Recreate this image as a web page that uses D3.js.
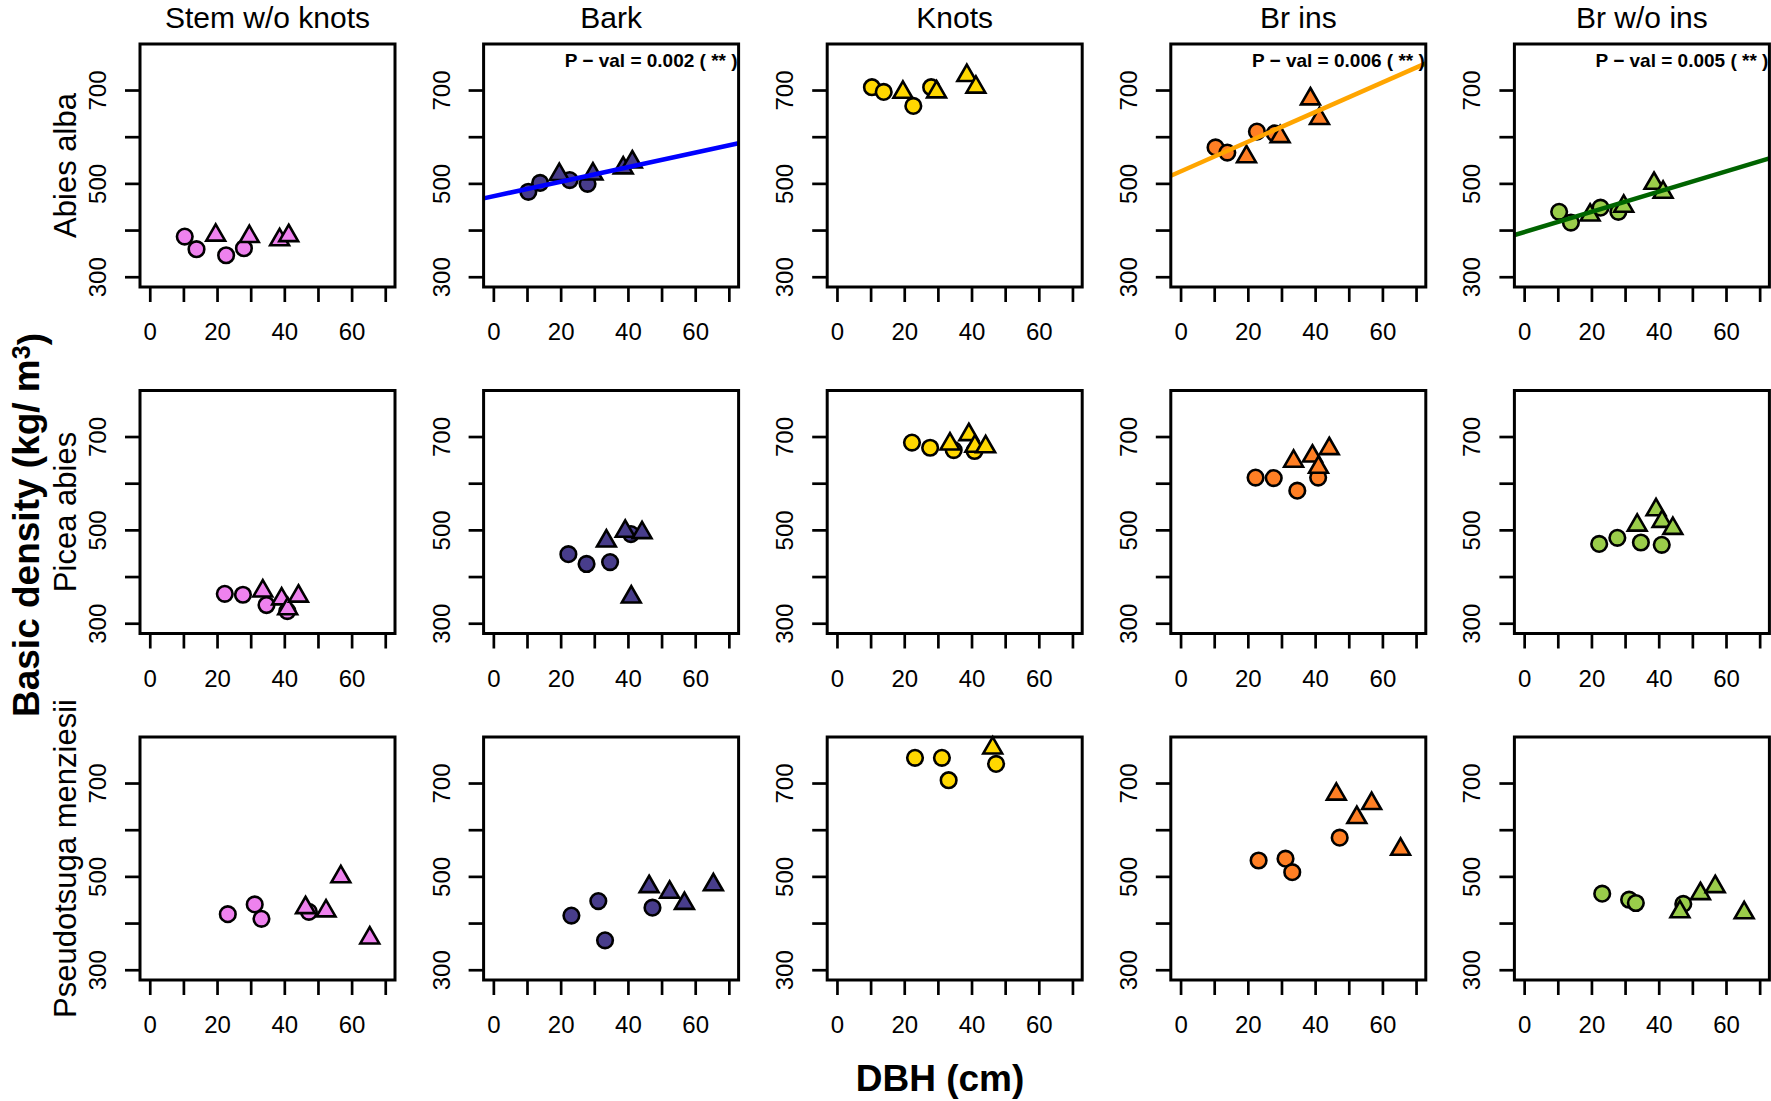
<!DOCTYPE html>
<html><head><meta charset="utf-8">
<script src="https://cdn.jsdelivr.net/npm/d3@7"></script>
<style>
body{margin:0;background:#fff}
svg{display:block;font-family:"Liberation Sans",Arial,Helvetica,sans-serif}
</style>
</head><body>
<svg id="chart" width="1771" height="1101"></svg>
<script>
// ---------- data ----------
const components = ["Stem w/o knots", "Bark", "Knots", "Br ins", "Br w/o ins"];
const speciesNames = ["Abies alba", "Picea abies", "Pseudotsuga menziesii"];
const xTicks = [0, 10, 20, 30, 40, 50, 60, 70];
const xTickLabels = [0, 20, 40, 60];
const yTicks = [300, 400, 500, 600, 700];
const yTickLabels = [300, 500, 700];

// DBH (cm) of the trees, circles and triangles groups
const abiesDbhCircle = [10.4, 13.9, 22.7, 28.0];
const abiesDbhTriangle = [19.6, 29.6, 38.6, 41.3];
const piceaDbhCircle = [22.3, 27.7, 34.7, 40.9];
const piceaDbhTriangle = [33.6, 39.2, 41.0, 44.2];
const pseudoDbhCircle = [23.2, 31.2, 33.2, 47.3];
const pseudoDbhTriangle = [46.3, 52.4, 56.8, 65.4];

// basic density (kg/m3), one row per component
const abiesCircle = [
  [386, 359, 346, 361],
  [482, 501, 507, 499],
  [706, 696, 666, 706],
  [577, 566, 611, 607],
  [439, 416, 448, 439]
];
const abiesTriangle = [
  [389, 386, 379, 388],
  [519, 520, 533, 546],
  [695, 696, 731, 706],
  [557, 600, 681, 639],
  [432, 451, 500, 481]
];
const piceaCircle = [
  [363, 361, 339, 326],
  [448, 427, 431, 491],
  [687, 676, 671, 669],
  [612, 611, 584, 612],
  [470, 483, 473, 468]
];
const piceaTriangle = [
  [369, 352, 331, 358],
  [476, 497, 356, 494],
  [684, 704, 679, 678],
  [647, 658, 634, 674],
  [510, 543, 518, 503]
];
const pseudoCircle = [
  [419, 440, 409, 424],
  [416, 447, 363, 433],
  [754, 754, 706, 741],
  [534, 538, 509, 583],
  [463, 450, 443, 441]
];
const pseudoTriangle = [
  [433, 426, 499, 368],
  [478, 466, 442, 482],
  [775, null, null, null],
  [676, 626, 656, 558],
  [424, 463, 478, 422]
];

// significant regressions (row, column, intercept, slope, p-value)
const fitRow = [0, 0, 0];
const fitCol = [1, 3, 4];
const fitIntercept = [472.4, 525.5, 395.5];
const fitSlope = [1.56, 3.18, 2.17];
const fitPValue = ["0.002", "0.006", "0.005"];
const fitStars = ["**", "**", "**"];

// ---------- styles ----------
const fillColors = ["#EE82EE", "#483D8B", "#FFD700", "#FF7F24", "#9ACD4A"];
const lineColors = ["#0000FF", "#0000FF", "#FFA500", "#FFA500", "#006400"];

const speciesData = [
  {dc: abiesDbhCircle, dt: abiesDbhTriangle, c: abiesCircle, t: abiesTriangle},
  {dc: piceaDbhCircle, dt: piceaDbhTriangle, c: piceaCircle, t: piceaTriangle},
  {dc: pseudoDbhCircle, dt: pseudoDbhTriangle, c: pseudoCircle, t: pseudoTriangle}
];

// ---------- layout ----------
const svg = d3.select("#chart");
const W = 255, H = 243;
const colLeft = i => 140 + i * 343.6;
const rowTop = j => 44 + j * 346.5;
const R = 7.8;       // marker radius
const TRI = 7.0;     // triangle size parameter

const x = d3.scaleLinear().domain([-2.9, 72.9]).range([0, W]);
const y = d3.scaleLinear().domain([278, 798.6]).range([H, 0]);

function trianglePath(s) {
  const a = 1.555 * s, b = 1.347 * s, c = 0.778 * s;
  const p = d3.path();
  p.moveTo(0, -a); p.lineTo(b, c); p.lineTo(-b, c); p.closePath();
  return p.toString();
}

const defs = svg.append("defs");

speciesData.forEach((sp, j) => {
  components.forEach((comp, i) => {
    const g = svg.append("g").attr("transform", `translate(${colLeft(i)},${rowTop(j)})`);
    const clipId = `clip-${j}-${i}`;
    defs.append("clipPath").attr("id", clipId)
      .append("rect").attr("width", W).attr("height", H);

    // x axis
    const xa = g.append("g").attr("transform", `translate(0,${H})`)
      .call(d3.axisBottom(x).tickValues(xTicks).tickSize(15).tickPadding(21)
        .tickFormat(d => xTickLabels.includes(d) ? d : ""));
    xa.select(".domain").remove();
    xa.selectAll("line").attr("stroke", "#000").attr("stroke-width", 2.7);
    xa.selectAll("text").attr("fill", "#000").style("font-size", "24px")
      .style("font-family", "'Liberation Sans',Arial,sans-serif");

    // y axis
    const ya = g.append("g")
      .call(d3.axisLeft(y).tickValues(yTicks).tickSize(15)
        .tickFormat(d => yTickLabels.includes(d) ? d : ""));
    ya.select(".domain").remove();
    ya.selectAll("line").attr("stroke", "#000").attr("stroke-width", 2.7);
    ya.selectAll("text").attr("fill", "#000").style("font-size", "24px")
      .style("font-family", "'Liberation Sans',Arial,sans-serif")
      .attr("x", null).attr("dy", null)
      .attr("text-anchor", "middle")
      .attr("transform", "translate(-34,0) rotate(-90)");

    // circles
    const circ = sp.dc.map((d, k) => ({x: d, y: sp.c[i][k]})).filter(d => d.y != null);
    g.selectAll("circle.pt").data(circ).join("circle")
      .attr("class", "pt")
      .attr("cx", d => x(d.x)).attr("cy", d => y(d.y)).attr("r", R)
      .attr("fill", fillColors[i]).attr("stroke", "#000").attr("stroke-width", 2.6);

    // triangles
    const tri = sp.dt.map((d, k) => ({x: d, y: sp.t[i][k]})).filter(d => d.y != null);
    g.selectAll("path.tri").data(tri).join("path")
      .attr("class", "tri")
      .attr("d", trianglePath(TRI))
      .attr("transform", d => `translate(${x(d.x)},${y(d.y)})`)
      .attr("fill", fillColors[i]).attr("stroke", "#000").attr("stroke-width", 2.6)
      .attr("stroke-linejoin", "miter");

    // regression line
    fitRow.forEach((r, f) => {
      if (r !== j || fitCol[f] !== i) return;
      const xd = x.domain();
      g.append("line")
        .attr("clip-path", `url(#${clipId})`)
        .attr("x1", x(xd[0])).attr("y1", y(fitIntercept[f] + fitSlope[f] * xd[0]))
        .attr("x2", x(xd[1])).attr("y2", y(fitIntercept[f] + fitSlope[f] * xd[1]))
        .attr("stroke", lineColors[i]).attr("stroke-width", 4.5);
      g.append("text")
        .attr("x", W - 1).attr("y", 23)
        .attr("text-anchor", "end")
        .style("font-size", "19px").style("font-weight", "bold")
        .text(`P \u2212 val = ${fitPValue[f]} ( ${fitStars[f]} )`);
    });

    // box
    g.append("rect").attr("width", W).attr("height", H)
      .attr("fill", "none").attr("stroke", "#000").attr("stroke-width", 3);

    // column titles
    if (j === 0) {
      svg.append("text")
        .attr("x", colLeft(i) + W / 2).attr("y", 28)
        .attr("text-anchor", "middle")
        .style("font-size", "30px")
        .text(comp);
    }
  });
  // species labels
  svg.append("text")
    .attr("transform", `translate(76,${rowTop(j) + H / 2}) rotate(-90)`)
    .attr("text-anchor", "middle")
    .style("font-size", "31px")
    .text(speciesNames[j]);
});

// outer axis titles
const yl = svg.append("text")
  .attr("transform", "translate(39,525) rotate(-90)")
  .attr("text-anchor", "middle")
  .style("font-size", "37px").style("font-weight", "bold");
yl.append("tspan").text("Basic density (kg/ m");
yl.append("tspan").attr("dy", "-0.38em").style("font-size", "25px").text("3");
yl.append("tspan").attr("dy", "0.38em").text(")");

svg.append("text")
  .attr("x", 940).attr("y", 1091)
  .attr("text-anchor", "middle")
  .style("font-size", "37px").style("font-weight", "bold")
  .text("DBH (cm)");
</script>
</body></html>
